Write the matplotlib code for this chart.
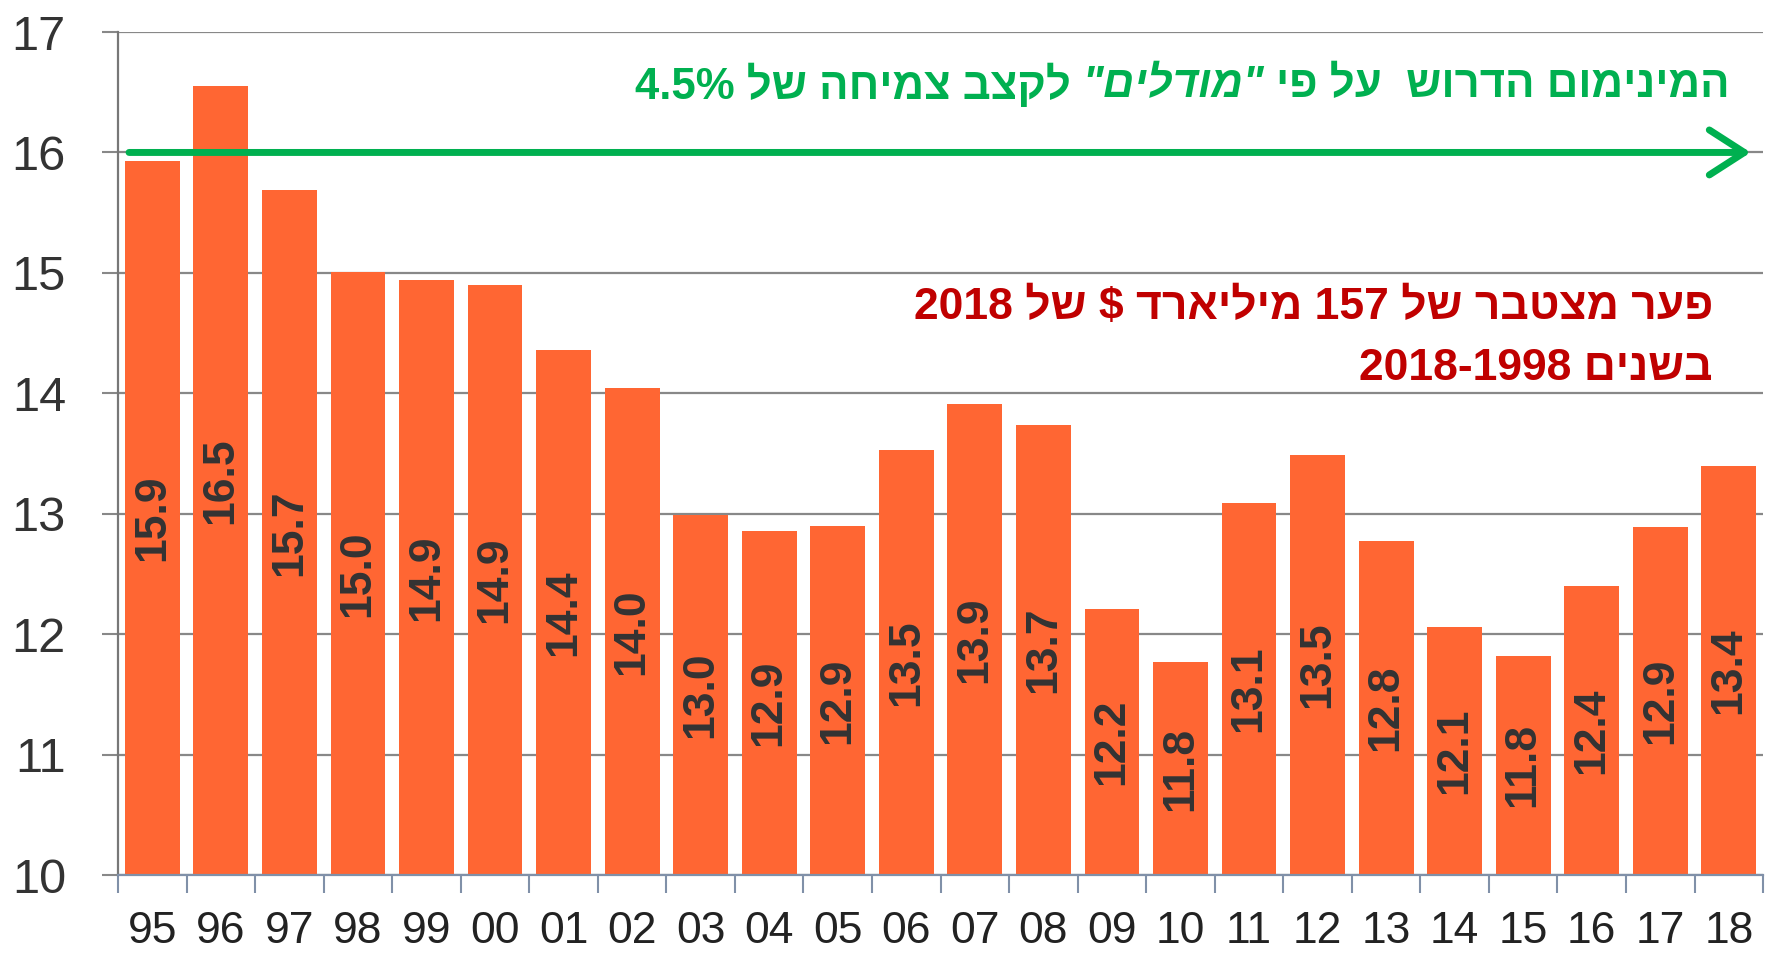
import re
import matplotlib
matplotlib.use("Agg")
import matplotlib.pyplot as plt
from matplotlib.offsetbox import TextArea, HPacker, AnnotationBbox

years = ['95', '96', '97', '98', '99', '00', '01', '02', '03', '04', '05', '06',
         '07', '08', '09', '10', '11', '12', '13', '14', '15', '16', '17', '18']
values = [15.93, 16.55, 15.69, 15.01, 14.94, 14.90, 14.36, 14.04, 12.99, 12.86, 12.90, 13.53,
          13.91, 13.74, 12.21, 11.77, 13.09, 13.49, 12.77, 12.06, 11.82, 12.40, 12.89, 13.40]
bar_labels = ['15.9', '16.5', '15.7', '15.0', '14.9', '14.9', '14.4', '14.0', '13.0', '12.9', '12.9', '13.5',
              '13.9', '13.7', '12.2', '11.8', '13.1', '13.5', '12.8', '12.1', '11.8', '12.4', '12.9', '13.4']
min_required = 16.0

green_parts = ["המינימום הדרוש  על פי", '"מודלים"', "לקצב צמיחה של 4.5%"]
red_lines = ["פער מצטבר של 157 מיליארד $ של 2018", "בשנים 2018-1998"]

GREEN = '#00B050'
RED = '#C00000'
BAR = '#FF6633'
FONT = 'Liberation Sans'


def visual(s):
    # crude rtl -> visual order, keeping number runs left to right
    r = s[::-1]
    return re.sub(r'[0-9.%\-]+', lambda m: m.group(0)[::-1], r)


fig = plt.figure(figsize=(17.73, 9.56), dpi=100)
ax = fig.add_axes([0.0666, 0.0847, 0.9278, 0.8818])

x = range(len(years))
ax.bar(x, [v - 10 for v in values], bottom=10, width=0.80, color=BAR, zorder=2)

for i, v in enumerate(values):
    ax.text(i, (10 + v) / 2, bar_labels[i], rotation=90, ha='center', va='center',
            fontsize=32, fontweight='bold', color='#333333', family=FONT, zorder=3)

ax.set_xlim(-0.5, len(years) - 0.5)
ax.set_ylim(10, 17)
ax.set_yticks(range(10, 18))
ax.yaxis.grid(True, color='#888888', lw=1.6, zorder=0)
ax.set_axisbelow(True)

ax.set_xticks([i - 0.5 for i in range(len(years) + 1)])
ax.set_xticklabels([])
ax.set_xticks(list(x), minor=True)
ax.set_xticklabels(years, minor=True)
ax.tick_params(axis='x', which='major', length=13, width=1.5, color='#8090a8')
ax.tick_params(axis='x', which='minor', length=0, pad=26, labelsize=32, labelcolor='#222222')
ax.tick_params(axis='y', length=11.5, width=1.5, color='#888888', pad=26,
               labelsize=35, labelcolor='#333333')
for lbl in ax.get_xticklabels(minor=True) + ax.get_yticklabels():
    lbl.set_family(FONT)

for s in ['top', 'right']:
    ax.spines[s].set_visible(False)
ax.spines['left'].set_color('#777777')
ax.spines['left'].set_linewidth(1.6)
ax.spines['bottom'].set_color('#8090a8')
ax.spines['bottom'].set_linewidth(1.6)

# green arrow at the required minimum
ax.annotate('', xy=(23.32, min_required), xytext=(-0.34, min_required),
            arrowprops=dict(arrowstyle='->, head_length=0.7, head_width=0.45', color=GREEN,
                            lw=5, mutation_scale=36, shrinkA=0, shrinkB=0),
            zorder=4)

# green text, italic middle word
props = dict(fontsize=31.5, fontweight='bold', color=GREEN, family=FONT)
areas = [
    TextArea(visual(green_parts[2]), textprops=props),
    TextArea(visual(green_parts[1]), textprops=dict(props, style='italic')),
    TextArea(visual(green_parts[0]), textprops=props),
]
pack = HPacker(children=areas, sep=8.5, pad=0, align='center')
ab = AnnotationBbox(pack, (1730 / 1773, 1 - 86 / 956), xycoords='figure fraction',
                    box_alignment=(1, 0.5), frameon=False, pad=0)
fig.add_artist(ab)

fig.text(1713 / 1773, 1 - 307 / 956, visual(red_lines[0]), ha='right', va='center',
         fontsize=32, fontweight='bold', color=RED, family=FONT)
fig.text(1713 / 1773, 1 - 368 / 956, visual(red_lines[1]), ha='right', va='center',
         fontsize=32, fontweight='bold', color=RED, family=FONT)

fig.savefig('out.png', dpi=100)
